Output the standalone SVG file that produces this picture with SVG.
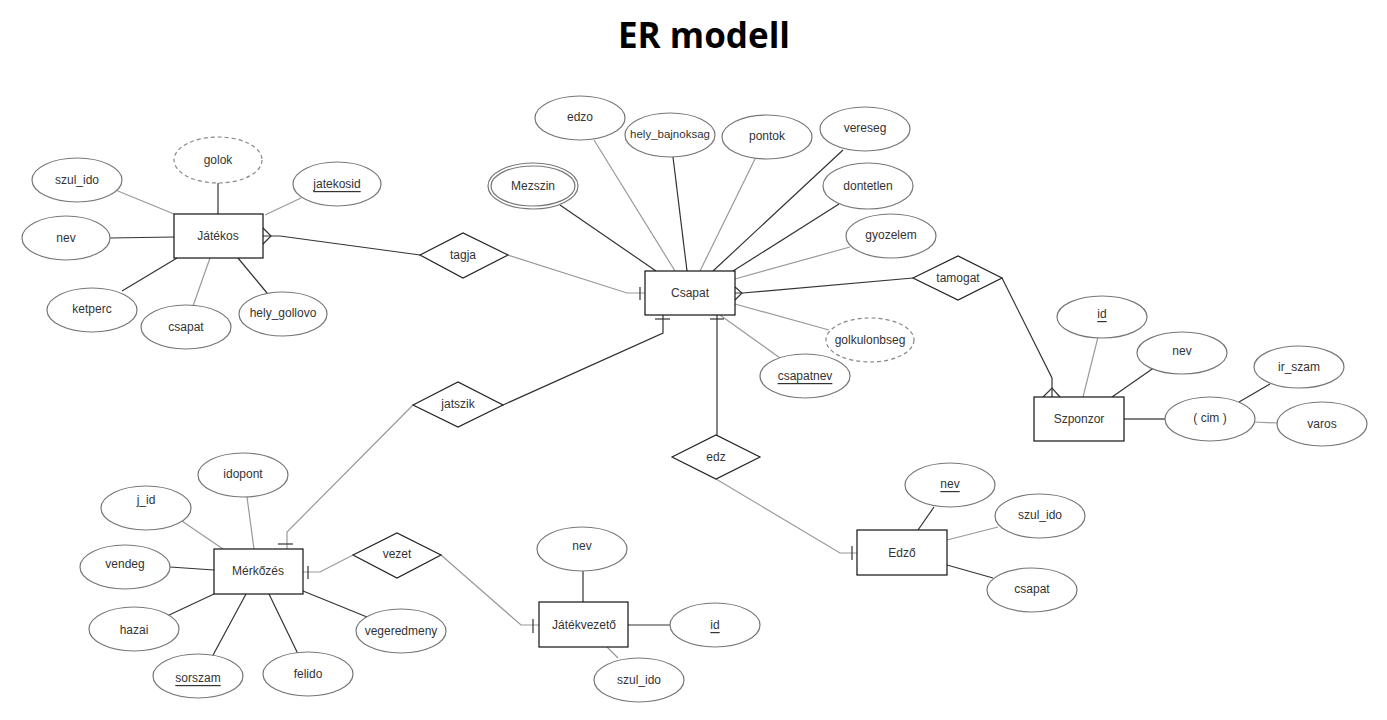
<svg xmlns="http://www.w3.org/2000/svg" width="1387" height="720" viewBox="0 0 1387 720">
<style>
text{font-family:"Liberation Sans",Arial,sans-serif;font-size:12px;fill:#333;text-anchor:middle;dominant-baseline:central}
.title{font-family:"Open Sans","Liberation Sans",sans-serif;font-size:35px;font-weight:bold;fill:#000;dominant-baseline:auto}
.ent rect{fill:#fff;stroke:#111;stroke-width:1.2}
.attr ellipse{fill:#fff;stroke:#777;stroke-width:1.2}
.dash ellipse{stroke-dasharray:4 3;stroke:#888}
.rel polygon{fill:#fff;stroke:#222;stroke-width:1.2}
.u{text-decoration:underline}
#connectors line,#connectors polyline,#connectors path{fill:none;stroke-width:1.2}
.d{stroke:#333}
.g{stroke:#999}
</style>
<rect width="1387" height="720" fill="#fff"/>
<text class="title" x="704" y="48">ER modell</text>

<g id="connectors">
  <line class="g" x1="113" y1="189" x2="174" y2="214"/>
  <line class="d" x1="218" y1="183" x2="218" y2="214"/>
  <line class="g" x1="301" y1="198" x2="265" y2="215"/>
  <line class="d" x1="110" y1="238" x2="174" y2="237"/>
  <line class="d" x1="122" y1="291" x2="177" y2="258"/>
  <line class="g" x1="193" y1="306" x2="210" y2="258"/>
  <line class="d" x1="267" y1="293" x2="238" y2="258"/>
  <path class="d" d="M263,228 L271,236 L263,244"/>
  <polyline class="d" points="263,236 280,236 420,255"/>
  <polyline class="g" points="508,255 627,293 645,293"/>
  <line class="d" x1="640" y1="287" x2="640" y2="300"/>
  <line class="d" x1="560" y1="205" x2="656" y2="271"/>
  <line class="g" x1="594" y1="140" x2="675" y2="271"/>
  <line class="d" x1="673" y1="157" x2="687" y2="271"/>
  <line class="g" x1="755" y1="159" x2="700" y2="271"/>
  <line class="d" x1="843" y1="150" x2="713" y2="271"/>
  <line class="d" x1="839" y1="204" x2="733" y2="271"/>
  <line class="g" x1="850" y1="247" x2="735" y2="279"/>
  <line class="g" x1="735" y1="304" x2="829" y2="330"/>
  <line class="g" x1="720" y1="315" x2="780" y2="358"/>
  <path class="d" d="M735,287 L742,293 L735,300"/>
  <polyline class="d" points="735,293 743,293 913,278"/>
  <polyline class="d" points="1002,278 1052,378 1052,397"/>
  <path class="d" d="M1043,397 L1052,388 L1060,397"/>
  <line class="g" x1="1098" y1="337" x2="1083" y2="397"/>
  <line class="d" x1="1155" y1="367" x2="1112" y2="397"/>
  <line class="d" x1="1124" y1="419" x2="1165" y2="419" style="stroke:#555;stroke-width:1.6"/>
  <line class="d" x1="1270" y1="384" x2="1239" y2="402"/>
  <line class="g" x1="1254" y1="422" x2="1277" y2="423"/>
  <polyline class="d" points="663,315 663,333 503,405"/>
  <line class="d" x1="655" y1="319" x2="670" y2="319"/>
  <polyline class="g" points="413,405 287,532 287,549"/>
  <line class="d" x1="278" y1="544" x2="293" y2="544"/>
  <line class="d" x1="717" y1="315" x2="717" y2="435"/>
  <line class="d" x1="710" y1="319" x2="724" y2="319"/>
  <polyline class="g" points="716,479 840,553 857,553"/>
  <line class="d" x1="852" y1="546" x2="852" y2="560"/>
  <line class="d" x1="934" y1="507" x2="918" y2="530"/>
  <line class="g" x1="998" y1="527" x2="947" y2="540"/>
  <line class="d" x1="947" y1="565" x2="993" y2="578"/>
  <line class="g" x1="247" y1="497" x2="254" y2="549"/>
  <line class="g" x1="176" y1="517" x2="223" y2="549"/>
  <line class="d" x1="170" y1="567" x2="214" y2="570"/>
  <line class="d" x1="167" y1="616" x2="214" y2="594"/>
  <line class="d" x1="212" y1="657" x2="246" y2="594"/>
  <line class="d" x1="298" y1="654" x2="269" y2="594"/>
  <line class="d" x1="367" y1="617" x2="303" y2="591"/>
  <polyline class="g" points="353,555 320,572 303,572"/>
  <line class="d" x1="308" y1="566" x2="308" y2="579"/>
  <polyline class="g" points="441,555 521,625 539,625"/>
  <line class="d" x1="533" y1="619" x2="533" y2="633"/>
  <line class="d" x1="583" y1="571" x2="583" y2="602"/>
  <line class="d" x1="628" y1="625" x2="671" y2="625"/>
  <line class="g" x1="607" y1="647" x2="618" y2="658"/>
</g>

<g id="jatekos" class="ent"><rect x="174" y="214" width="89" height="44"/><text x="218" y="236">Játékos</text></g>
<g id="csapat" class="ent"><rect x="645" y="271" width="90" height="44"/><text x="690" y="293">Csapat</text></g>
<g id="szponzor" class="ent"><rect x="1034" y="397" width="90" height="44"/><text x="1079" y="419">Szponzor</text></g>
<g id="merkozes" class="ent"><rect x="214" y="549" width="89" height="45"/><text x="258" y="571">Mérkőzés</text></g>
<g id="jatekvezeto" class="ent"><rect x="539" y="602" width="89" height="45"/><text x="584" y="625">Játékvezető</text></g>
<g id="edzo-ent" class="ent"><rect x="857" y="530" width="90" height="45"/><text x="902" y="553">Edző</text></g>

<g id="tagja" class="rel"><polygon points="420,255 463,233 508,255 463,278"/><text x="463" y="255">tagja</text></g>
<g id="tamogat" class="rel"><polygon points="913,278 958,256 1002,278 958,300"/><text x="958" y="278">tamogat</text></g>
<g id="jatszik" class="rel"><polygon points="413,405 458,382 503,405 458,427"/><text x="458" y="404">jatszik</text></g>
<g id="edz" class="rel"><polygon points="672,457 716,435 760,457 716,479"/><text x="716" y="457">edz</text></g>
<g id="vezet" class="rel"><polygon points="353,555 397,533 441,555 397,578"/><text x="397" y="554">vezet</text></g>

<g id="j-szul_ido" class="attr"><ellipse cx="77" cy="180" rx="45" ry="22"/><text x="77" y="180">szul_ido</text></g>
<g id="j-golok" class="attr dash"><ellipse cx="218" cy="160" rx="44" ry="23"/><text x="218" y="160">golok</text></g>
<g id="j-jatekosid" class="attr"><ellipse cx="337" cy="184" rx="44" ry="22"/><text class="u" x="337" y="184">jatekosid</text></g>
<g id="j-nev" class="attr"><ellipse cx="66" cy="238" rx="44" ry="22"/><text x="66" y="238">nev</text></g>
<g id="j-ketperc" class="attr"><ellipse cx="92" cy="310" rx="45" ry="22"/><text x="92" y="309">ketperc</text></g>
<g id="j-csapat" class="attr"><ellipse cx="186" cy="327" rx="45" ry="22"/><text x="186" y="327">csapat</text></g>
<g id="j-hely_gollovo" class="attr"><ellipse cx="283" cy="314" rx="44" ry="22"/><text x="283" y="313">hely_gollovo</text></g>

<g id="c-mezszin" class="attr"><ellipse cx="533" cy="186" rx="45" ry="23"/><ellipse cx="533" cy="186" rx="42" ry="20"/><text x="533" y="186">Mezszin</text></g>
<g id="c-edzo" class="attr"><ellipse cx="580" cy="118" rx="45" ry="22"/><text x="580" y="117">edzo</text></g>
<g id="c-hely_bajnoksag" class="attr"><ellipse cx="670" cy="135" rx="45" ry="22"/><text x="670" y="134" style="font-size:11.5px">hely_bajnoksag</text></g>
<g id="c-pontok" class="attr"><ellipse cx="767" cy="137" rx="45" ry="22"/><text x="767" y="136">pontok</text></g>
<g id="c-vereseg" class="attr"><ellipse cx="865" cy="129" rx="45" ry="22"/><text x="865" y="128">vereseg</text></g>
<g id="c-dontetlen" class="attr"><ellipse cx="868" cy="186" rx="45" ry="23"/><text x="868" y="186">dontetlen</text></g>
<g id="c-gyozelem" class="attr"><ellipse cx="891" cy="236" rx="45" ry="22"/><text x="891" y="235">gyozelem</text></g>
<g id="c-golkulonbseg" class="attr dash"><ellipse cx="870" cy="340" rx="44" ry="22"/><text x="870" y="340">golkulonbseg</text></g>
<g id="c-csapatnev" class="attr"><ellipse cx="805" cy="376" rx="45" ry="22"/><text class="u" x="805" y="376">csapatnev</text></g>

<g id="s-id" class="attr"><ellipse cx="1102" cy="317" rx="45" ry="21"/><text class="u" x="1102" y="314">id</text></g>
<g id="s-nev" class="attr"><ellipse cx="1182" cy="353" rx="45" ry="21"/><text x="1182" y="351">nev</text></g>
<g id="s-cim" class="attr"><ellipse cx="1210" cy="419" rx="45" ry="22"/><text x="1210" y="418">( cim )</text></g>
<g id="s-ir_szam" class="attr"><ellipse cx="1299" cy="367" rx="45" ry="21"/><text x="1299" y="367">ir_szam</text></g>
<g id="s-varos" class="attr"><ellipse cx="1322" cy="424" rx="45" ry="22"/><text x="1322" y="424">varos</text></g>

<g id="e-nev" class="attr"><ellipse cx="950" cy="485" rx="45" ry="22"/><text class="u" x="950" y="484">nev</text></g>
<g id="e-szul_ido" class="attr"><ellipse cx="1040" cy="516" rx="45" ry="22"/><text x="1040" y="515">szul_ido</text></g>
<g id="e-csapat" class="attr"><ellipse cx="1032" cy="590" rx="45" ry="22"/><text x="1032" y="589">csapat</text></g>

<g id="m-idopont" class="attr"><ellipse cx="243" cy="475" rx="45" ry="22"/><text x="243" y="474">idopont</text></g>
<g id="m-j_id" class="attr"><ellipse cx="146" cy="508" rx="45" ry="22"/><text x="146" y="500">j_id</text></g>
<g id="m-vendeg" class="attr"><ellipse cx="125" cy="567" rx="45" ry="22"/><text x="125" y="564">vendeg</text></g>
<g id="m-hazai" class="attr"><ellipse cx="134" cy="629" rx="45" ry="22"/><text x="134" y="630">hazai</text></g>
<g id="m-sorszam" class="attr"><ellipse cx="198" cy="676" rx="45" ry="22"/><text class="u" x="198" y="678">sorszam</text></g>
<g id="m-felido" class="attr"><ellipse cx="308" cy="674" rx="45" ry="22"/><text x="308" y="674">felido</text></g>
<g id="m-vegeredmeny" class="attr"><ellipse cx="401" cy="631" rx="45" ry="22"/><text x="401" y="631">vegeredmeny</text></g>

<g id="v-nev" class="attr"><ellipse cx="582" cy="549" rx="45" ry="22"/><text x="582" y="546">nev</text></g>
<g id="v-id" class="attr"><ellipse cx="715" cy="625" rx="45" ry="22"/><text class="u" x="715" y="625">id</text></g>
<g id="v-szul_ido" class="attr"><ellipse cx="639" cy="680" rx="45" ry="22"/><text x="639" y="680">szul_ido</text></g>
</svg>
